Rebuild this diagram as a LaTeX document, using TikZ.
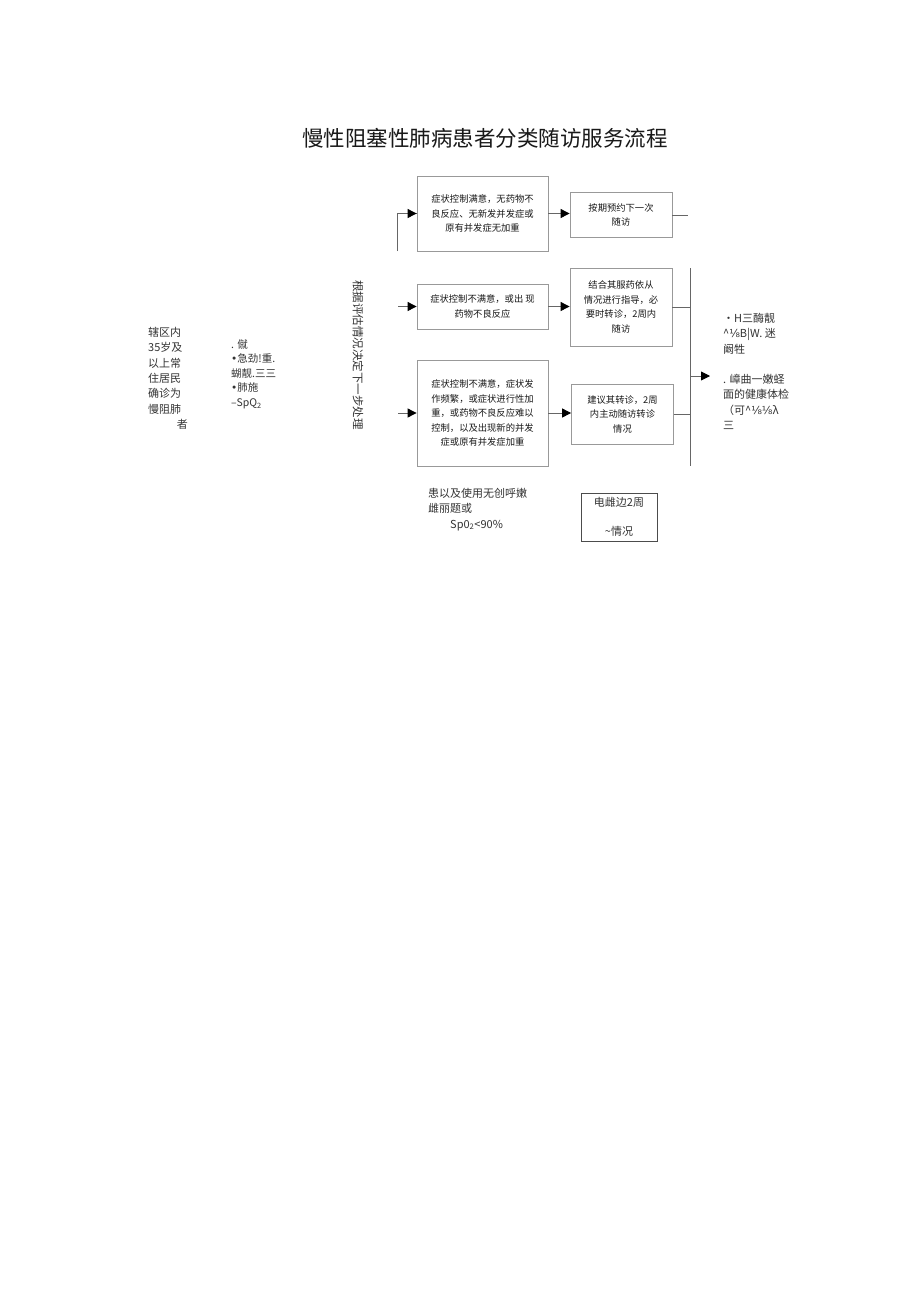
\documentclass[tikz,border=0pt]{standalone}
\usepackage{fontspec}
\setmainfont{Noto Sans CJK SC}
\newfontfamily\symfont{DejaVu Sans}
\usetikzlibrary{arrows.meta}
\tikzset{
  box/.style={draw=black!40, line width=0.8pt, inner sep=0pt, align=center,
    text=black!90, font=\fontsize{9.3}{14.5}\selectfont},
  link/.style={draw=black!60, line width=0.9pt},
  arr/.style={link, -{Triangle[length=9pt,width=9pt,fill=black,color=black]}},
  note/.style={inner sep=0pt, align=left, anchor=north west,
    text=black!80, font=\fontsize{11}{15.3}\selectfont},
}
\newcommand{\eighth}{{\symfont ⅛}}
\newcommand{\dotmark}{{\symfont •}}
\begin{document}
\begin{tikzpicture}[x=1pt,y=-1pt]
    \useasboundingbox[fill=white] (0,0) rectangle (920,1301);
    % title
    \node[font=\fontsize{21.5}{24}\selectfont, text=black!90] (title) at (485,138) {慢性阻塞性肺病患者分类随访服务流程};
    % left notes
    \node[note] (crowd) at (148,327) {辖区内\\35岁及\\以上常\\住居民\\确诊为\\慢阻肺\\\hspace*{2.6em}者};
    \node[note, font=\fontsize{10.5}{14.6}\selectfont] (check) at (231,339) {. 僦\\\dotmark 急劲!重.\\蝴靓.三三\\\dotmark 肺施\\–SpQ\textsubscript{2}};
    \node[rotate=-90, text=black!80, font=\fontsize{11.5}{12}\selectfont] (plan) at (358,355) {根据评估情况决定下一步处理};
    % first column
    \node[box, minimum width=131pt, minimum height=75pt] (good) at (482.5,213.5)
        {症状控制满意，无药物不\\良反应、无新发并发症或\\原有并发症无加重};
    \node[box, minimum width=131pt, minimum height=45pt] (fair) at (482.5,306.5)
        {症状控制不满意，或出\ 现\\药物不良反应};
    \node[box, minimum width=131pt, minimum height=106pt] (poor) at (482.5,413)
        {症状控制不满意，症状发\\作频繁，或症状进行性加\\重，或药物不良反应难以\\控制，以及出现新的并发\\症或原有并发症加重};
    % second column
    \node[box, minimum width=102pt, minimum height=45pt] (next) at (621,215)
        {按期预约下一次\\随访};
    \node[box, minimum width=102pt, minimum height=78pt] (guide) at (621,307)
        {结合其服药依从\\情况进行指导，必\\要时转诊，2周内\\随访};
    \node[box, minimum width=102pt, minimum height=60pt] (refer) at (622.5,414)
        {建议其转诊，2周\\内主动随访转诊\\情况};
    % right notes
    \node[note] (exam) at (723,313) {·H三酶靓\\\^{}\eighth B|W. 迷\\阚牲};
    \node[note] (body) at (723,374) {. 嶂曲一嫩蛏\\面的健康体检\\（可\^{}\eighth\eighth λ\\三};
    % bottom notes
    \node[note] (spo) at (428,488) {患以及使用无创呼嫩\\雌丽题或\\\hspace*{2em}Sp0\textsubscript{2}<90\%};
    \node[draw=black!70, line width=0.7pt, minimum width=76pt, minimum height=48pt,
        inner sep=0pt, text=black!80, align=center, font=\fontsize{11}{29}\selectfont] (twowk) at (619,517)
        {电雌边2周\\\~{}情况};
    % connectors
    \coordinate (lt) at (397,251);
    \coordinate (lm) at (398,306.5);
    \coordinate (lb) at (398,413);
    \draw[link] (lt) |- (good.west);
    \draw[arr] (lt |- good.west) -- (good.west);
    \draw[arr] (lm) -- (fair.west);
    \draw[arr] (lb) -- (poor.west);
    \draw[arr] (good.east) -- (good.east -| next.west);
    \draw[arr] (fair.east) -- (fair.east -| guide.west);
    \draw[arr] (poor.east) -- (poor.east -| refer.west);
    \coordinate (rt) at (690,268);
    \coordinate (rb) at (690,466);
    \coordinate (ra) at (710,376);
    \draw[link] (next.east) -- +(16,0);
    \draw[link] (rt) -- (rb);
    \draw[link] (guide.east) -- (guide.east -| rt);
    \draw[link] (refer.east) -- (refer.east -| rt);
    \draw[arr] (ra -| rt) -- (ra);
\end{tikzpicture}
\end{document}
